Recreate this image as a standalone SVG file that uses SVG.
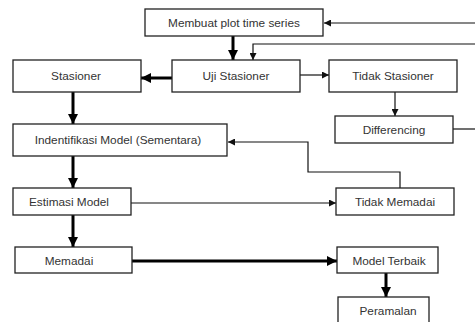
<svg xmlns="http://www.w3.org/2000/svg" width="475" height="322" viewBox="0 0 475 322">
<style>
.box{fill:#fff;stroke:#222;stroke-width:1.3}
.t{font-family:"Liberation Sans",Arial,sans-serif;font-size:11.8px;fill:#333;text-anchor:middle}
.thin{fill:none;stroke:#111;stroke-width:1.2}
.thick{fill:none;stroke:#000;stroke-width:3}
</style>
<defs>
<marker id="a" viewBox="0 0 10 10" refX="10" refY="5" markerWidth="7" markerHeight="7" markerUnits="userSpaceOnUse" orient="auto"><path d="M0,0L10,5L0,10z" fill="#111"/></marker>
<marker id="b" viewBox="0 0 10 10" refX="10" refY="5" markerWidth="10" markerHeight="10" markerUnits="userSpaceOnUse" orient="auto"><path d="M0,0L10,5L0,10z" fill="#000"/></marker>
</defs>
<rect width="475" height="322" fill="#fff"/>
<g id="connectors">
<path class="thin" d="M475,23H324" marker-end="url(#a)"/>
<path class="thin" d="M475,44H253V60" marker-end="url(#a)"/>
<path class="thick" d="M233,36V60" marker-end="url(#b)"/>
<path class="thick" d="M172,78H141" marker-end="url(#b)"/>
<path class="thin" d="M300,75H329" marker-end="url(#a)"/>
<path class="thin" d="M395,92V116" marker-end="url(#a)"/>
<path class="thin" d="M453,129H475"/>
<path class="thick" d="M73,92V124" marker-end="url(#b)"/>
<path class="thin" d="M400,188V172H308V142H228" marker-end="url(#a)"/>
<path class="thick" d="M73,156V188" marker-end="url(#b)"/>
<path class="thin" d="M131,203H336" marker-end="url(#a)"/>
<path class="thick" d="M73,215V247" marker-end="url(#b)"/>
<path class="thick" d="M132,261H337" marker-end="url(#b)"/>
<path class="thick" d="M386,273V297" marker-end="url(#b)"/>
</g>
<g id="n1"><rect class="box" x="145" y="9" width="178" height="27"/><text class="t" x="234" y="27">Membuat plot time series</text></g>
<g id="n2"><rect class="box" x="172" y="60" width="128" height="32"/><text class="t" x="236" y="80">Uji Stasioner</text></g>
<g id="n3"><rect class="box" x="13" y="60" width="128" height="32"/><text class="t" x="76" y="80">Stasioner</text></g>
<g id="n4"><rect class="box" x="329" y="60" width="128" height="32"/><text class="t" x="393" y="80">Tidak Stasioner</text></g>
<g id="n5"><rect class="box" x="335" y="116" width="118" height="27"/><text class="t" x="394" y="134">Differencing</text></g>
<g id="n6"><rect class="box" x="13" y="124" width="214" height="32"/><text class="t" x="118" y="144">Indentifikasi Model (Sementara)</text></g>
<g id="n7"><rect class="box" x="13" y="188" width="118" height="27"/><text class="t" x="69" y="206">Estimasi Model</text></g>
<g id="n8"><rect class="box" x="336" y="188" width="118" height="27"/><text class="t" x="395" y="206">Tidak Memadai</text></g>
<g id="n9"><rect class="box" x="15" y="247" width="117" height="26"/><text class="t" x="69" y="264.5">Memadai</text></g>
<g id="n10"><rect class="box" x="337" y="247" width="101" height="26"/><text class="t" x="389" y="264.5">Model Terbaik</text></g>
<g id="n11"><rect class="box" x="338" y="297" width="91" height="30"/><text class="t" x="388" y="314.5">Peramalan</text></g>
</svg>
